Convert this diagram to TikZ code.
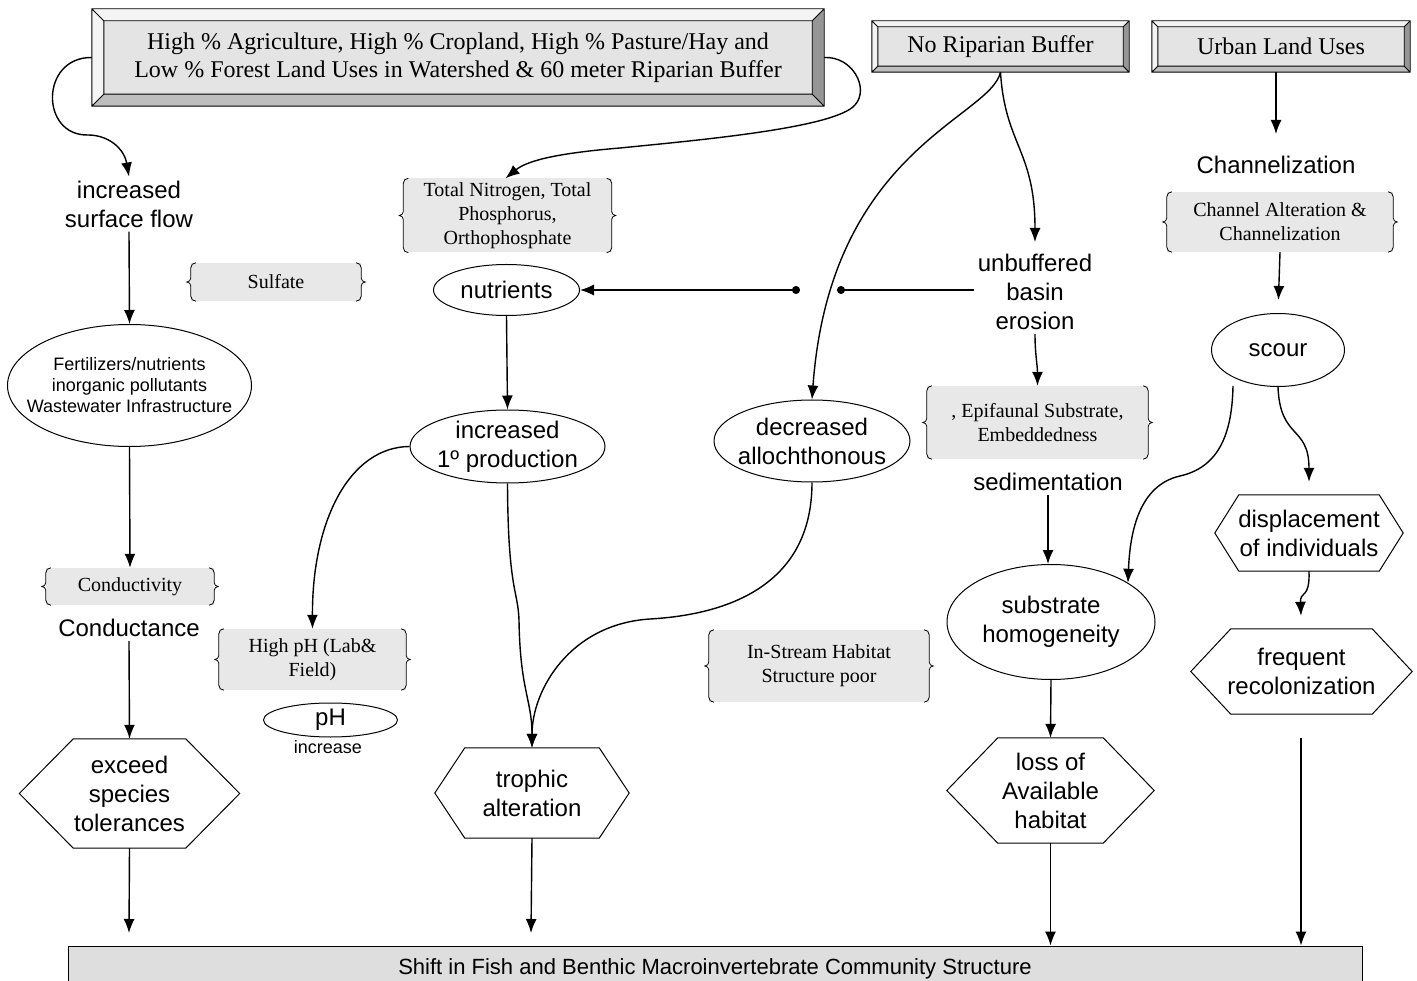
\documentclass[tikz,border=0pt]{standalone}
\usepackage{fontspec}
\setmainfont{Liberation Serif}
\setsansfont{Liberation Sans}
\usepackage{tikz}
\usetikzlibrary{arrows.meta,shapes,positioning}
\definecolor{facegray}{RGB}{228,228,228}
\definecolor{litegray}{RGB}{244,244,244}
\definecolor{lowgray}{RGB}{190,190,190}
\definecolor{sidegray}{RGB}{150,150,150}
\definecolor{paramgray}{RGB}{232,232,232}
\definecolor{basegray}{RGB}{222,222,222}
\tikzstyle{arrow} = [line width=1.4pt,-{Latex[length=14pt,width=11pt]}]
\tikzstyle{dotline} = [line width=1.4pt,-{Circle[length=8pt]}]
\tikzstyle{dotarrow} = [line width=1.4pt,{Circle[length=8pt]}-{Latex[length=14pt,width=11pt]}]
\tikzstyle{landuse} = [fill=facegray, inner sep=0pt, align=center, font=\fontsize{24}{28}\selectfont]
\tikzstyle{param} = [fill=paramgray, inner sep=0pt, align=center, font=\fontsize{20}{24}\selectfont]
\tikzstyle{effect} = [inner sep=4pt, align=center, font=\sffamily\fontsize{24}{29}\selectfont]
\tikzstyle{oval} = [effect, draw, line width=1pt, ellipse, inner xsep=-30pt, inner ysep=-10pt]
\tikzstyle{hexbox} = [effect, inner sep=0pt]

% bevelled frame, #2 = depth of the bevel
\newcommand{\bevel}[2]{%
  \fill[litegray] (#1.north west) -- (#1.north east) -- ([xshift=-#2pt,yshift=-#2pt]#1.north east) -- ([xshift=#2pt,yshift=-#2pt]#1.north west) -- cycle;
  \fill[litegray] (#1.north west) -- ([xshift=#2pt,yshift=-#2pt]#1.north west) -- ([xshift=#2pt,yshift=#2pt]#1.south west) -- (#1.south west) -- cycle;
  \fill[sidegray] (#1.north east) -- (#1.south east) -- ([xshift=-#2pt,yshift=#2pt]#1.south east) -- ([xshift=-#2pt,yshift=-#2pt]#1.north east) -- cycle;
  \fill[lowgray] (#1.south west) -- (#1.south east) -- ([xshift=-#2pt,yshift=#2pt]#1.south east) -- ([xshift=#2pt,yshift=#2pt]#1.south west) -- cycle;
  \draw[line width=0.9pt] (#1.north west) rectangle (#1.south east)
    ([xshift=#2pt,yshift=-#2pt]#1.north west) rectangle ([xshift=-#2pt,yshift=#2pt]#1.south east)
    (#1.north west) -- ([xshift=#2pt,yshift=-#2pt]#1.north west)
    (#1.north east) -- ([xshift=-#2pt,yshift=-#2pt]#1.north east)
    (#1.south east) -- ([xshift=-#2pt,yshift=#2pt]#1.south east)
    (#1.south west) -- ([xshift=#2pt,yshift=#2pt]#1.south west);
}
% curly sides of a parameter box
\newcommand{\curly}[1]{%
  \draw[line width=0.8pt] ([xshift=5pt]#1.north west) to[out=180,in=90] ([yshift=-5pt]#1.north west) -- ([yshift=4pt]#1.west) to[out=-90,in=0] ([xshift=-4pt]#1.west) to[out=0,in=90] ([yshift=-4pt]#1.west) -- ([yshift=5pt]#1.south west) to[out=-90,in=180] ([xshift=5pt]#1.south west);
  \draw[line width=0.8pt] ([xshift=-5pt]#1.north east) to[out=0,in=90] ([yshift=-5pt]#1.north east) -- ([yshift=4pt]#1.east) to[out=-90,in=180] ([xshift=4pt]#1.east) to[out=180,in=90] ([yshift=-4pt]#1.east) -- ([yshift=5pt]#1.south east) to[out=-90,in=0] ([xshift=-5pt]#1.south east);
}
% hexagon round a node, #2 = inset of the top edge
\newcommand{\hexframe}[2]{%
  \draw[line width=1pt] ([xshift=#2pt]#1.north west) -- ([xshift=-#2pt]#1.north east) -- (#1.east) -- ([xshift=-#2pt]#1.south east) -- ([xshift=#2pt]#1.south west) -- (#1.west) -- cycle;
}

\begin{document}
\begin{tikzpicture}[x=1pt,y=-1pt]
\useasboundingbox (0,0) rectangle (1417,981);

% Land uses
\node[landuse, minimum width=732, minimum height=97] (agri) at (458,57.5) {High \% Agriculture, High \% Cropland, High \% Pasture/Hay and\\Low \% Forest Land Uses in Watershed \& 60 meter Riparian Buffer};
\node[landuse, minimum width=257, minimum height=51] (norip) at (1000.5,46.5) {No Riparian Buffer};
\node[landuse, minimum width=258, minimum height=51] (urban) at (1281,46.5) {Urban Land Uses};
\bevel{agri}{12}
\bevel{norip}{6}
\bevel{urban}{6}

% Measured parameters
\node[param, minimum width=170, minimum height=38] (sulfate) at (276,282) {Sulfate};
\node[param, minimum width=208, minimum height=74] (tnp) at (507.5,215.5) {Total Nitrogen, Total\\Phosphorus,\\Orthophosphate};
\node[param, minimum width=168, minimum height=37] (cond) at (130,586.5) {Conductivity};
\node[param, minimum width=187, minimum height=61] (highph) at (312.5,659.5) {High pH (Lab\&\\Field)};
\node[param, minimum width=220, minimum height=72] (instream) at (819,666) {In-Stream Habitat\\Structure poor};
\node[param, minimum width=221, minimum height=73] (epif) at (1037.5,422.5) {, Epifaunal Substrate,\\Embeddedness};
\node[param, minimum width=226, minimum height=60] (chan) at (1280,222) {Channel Alteration \&\\Channelization};
\foreach \p in {sulfate,tnp,cond,highph,instream,epif,chan} {\curly{\p}}

% Stressors
\node[effect] (surf) at (129,204) {increased\\surface flow};
\node[effect] (conduct) at (129,628) {Conductance};
\node[effect] (erosion) at (1035,292) {unbuffered\\basin\\erosion};
\node[effect] (sediment) at (1048,482) {sedimentation};
\node[effect] (channel) at (1276,165) {Channelization};

\node[oval, minimum width=244, minimum height=122, font=\sffamily\fontsize{18}{21}\selectfont] (fert) at (129.5,385.5) {Fertilizers/nutrients\\inorganic pollutants\\Wastewater Infrastructure};
\node[oval, minimum width=146, minimum height=51] (nutr) at (506.5,290) {nutrients};
\node[oval, minimum width=195, minimum height=73] (incprod) at (507.5,446.5) {increased\\1º production};
\node[oval, minimum width=196, minimum height=82] (decall) at (812,441) {decreased\\allochthonous};
\node[oval, minimum width=134, minimum height=34] (ph) at (330.5,720) {pH};
\node[effect, inner sep=0pt, font=\sffamily\fontsize{18}{21}\selectfont] (phinc) at (328,747) {increase};
\node[oval, minimum width=133, minimum height=73] (scour) at (1278,350) {scour};
\node[oval, minimum width=208, minimum height=115] (subhom) at (1051,622) {substrate\\homogeneity};

% Responses
\node[hexbox, minimum width=220, minimum height=109] (exceed) at (129.5,793.5) {exceed\\species\\tolerances};
\node[hexbox, minimum width=194, minimum height=90] (trophic) at (532,793) {trophic\\alteration};
\node[hexbox, minimum width=207, minimum height=105] (loss) at (1050.5,790.5) {loss of\\Available\\habitat};
\node[hexbox, minimum width=188, minimum height=76] (displ) at (1309,533) {displacement\\of individuals};
\node[hexbox, minimum width=221, minimum height=85] (freq) at (1301.5,671.5) {frequent\\recolonization};
\hexframe{exceed}{54}
\hexframe{trophic}{30}
\hexframe{loss}{51}
\hexframe{displ}{24}
\hexframe{freq}{40}

\node[fill=basegray, draw, line width=0.8pt, minimum width=1294, minimum height=46, inner sep=0pt, font=\sffamily\fontsize{22}{26}\selectfont] (shift) at (715,969) {Shift in Fish and Benthic Macroinvertebrate Community Structure};

% Free ends
\coordinate (exend) at (129,933);
\coordinate (trend) at (531,933);
\coordinate (hopR) at (837,290);
\coordinate (hopL) at (800,290);
\coordinate (scourtail) at (1233,386);
\coordinate (freqtail) at (1301,738);

% Connectors
\draw[arrow] (agri.west) .. controls (40,57) and (40,136) .. (88,135) .. controls (108,135) and (124,148) .. (surf.north);
\draw[arrow] (agri.east) .. controls (852,56) and (870,88) .. (855,105) .. controls (835,128) and (700,140) .. (620,148) .. controls (560,153) and (528,160) .. ([xshift=-2pt]tnp.north);
\draw[arrow] (surf.south) -- (fert.north);
\draw[arrow] (fert.south) -- (cond.north);
\draw[arrow] (conduct.south) -- (exceed.north);
\draw[arrow] (exceed.south) -- (exend);
\draw[dotline] (erosion.west |- hopR) -- (hopR);
\draw[dotarrow] (hopL) -- (nutr.east);
\draw[arrow] (nutr.south) -- (incprod.north);
\draw[arrow] (incprod.west) .. controls (350,447) and (312,520) .. (highph.north);
\draw[arrow] (incprod.south) .. controls (508,590) and (518,590) .. (519,620) .. controls (520,690) and (532,700) .. (trophic.north);
\draw[arrow] (decall.south) .. controls (812,590) and (720,615) .. (650,619) .. controls (570,624) and (532,690) .. (trophic.north);
\draw[arrow] (trophic.south) -- (trend);
\draw[arrow] (norip.south) .. controls (990,118) and (830,150) .. (decall.north);
\draw[arrow] (norip.south) .. controls (1005,145) and (1035,150) .. ([yshift=8pt]erosion.north);
\draw[arrow] (erosion.south) to[out=-90,in=90] (epif.north);
\draw[arrow] (sediment.south) -- (sediment.south |- subhom.north);
\draw[arrow] (subhom.south) -- (loss.north);
\draw[arrow] (loss.south) -- (loss.south |- shift.north);
\draw[arrow] (freqtail) -- (freqtail |- shift.north);
\draw[arrow] (channel.north |- urban.south) -- ([yshift=18pt]channel.north);
\draw[arrow, shorten >=13pt] (chan.south) -- (scour.north);
\draw[arrow] (scourtail) .. controls (1232,440) and (1215,468) .. (1180,476) .. controls (1140,485) and (1130,530) .. (subhom.27);
\draw[arrow, shorten >=13pt] (scour.south) .. controls (1280,440) and (1309,425) .. (displ.north);
\draw[arrow, shorten >=13pt] (displ.south) .. controls (1310,600) and (1300,590) .. (freq.north);
\end{tikzpicture}
\end{document}
